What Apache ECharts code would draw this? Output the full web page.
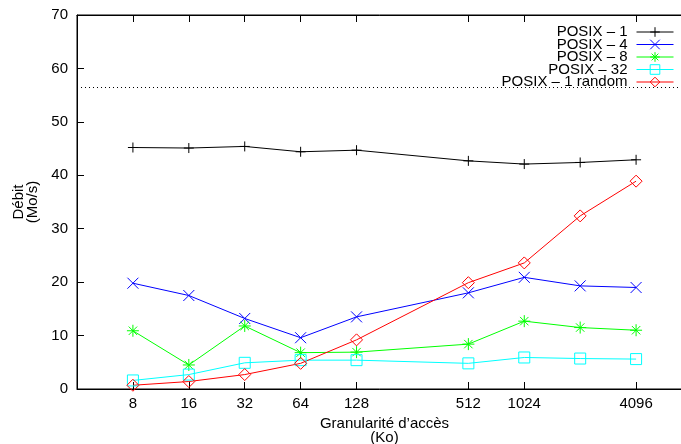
<!doctype html>
<html>
<head>
<meta charset="utf-8">
<title>Débit POSIX</title>
<script src="https://cdn.jsdelivr.net/npm/echarts@6/dist/echarts.min.js"></script>
<style>
  html, body { margin: 0; padding: 0; background: #fff; }
  #chart { width: 681px; height: 444px; }
</style>
</head>
<body>
<div id="chart"></div>
<script>
// tailles d'accès (Ko) et débits (Mo/s)
var sizes = [8, 16, 32, 64, 128, 512, 1024, 2048, 4096];
var tickSizes = [8, 16, 32, 64, 128, 512, 1024, 4096];
var posix1 = [45.2, 45.1, 45.4, 44.4, 44.7, 42.7, 42.1, 42.4, 42.9];
var posix4 = [19.8, 17.5, 13.2, 9.6, 13.5, 18.0, 20.9, 19.3, 19.0];
var posix8 = [10.9, 4.5, 11.8, 6.8, 6.9, 8.4, 12.7, 11.5, 11.0];
var posix32 = [1.6, 2.7, 4.9, 5.4, 5.4, 4.8, 5.9, 5.7, 5.6];
var posix1Random = [0.7, 1.4, 2.7, 4.8, 9.2, 19.9, 23.6, 32.4, 38.9];
var refLevel = 56.5;

var font = 'Liberation Sans';

function pairs(vals) {
    return sizes.map(function (s, i) { return [s, vals[i]]; });
}

function makeSeries(name, vals, color, symbol, size) {
    return {
        name: name,
        type: 'line',
        data: pairs(vals),
        symbol: symbol,
        symbolSize: size,
        showAllSymbol: true,
        lineStyle: { color: color, width: 1 },
        itemStyle: { color: 'rgba(0,0,0,0)', borderColor: color, borderWidth: 1 },
        emphasis: { disabled: true }
    };
}

var series = [
    makeSeries('POSIX – 1', posix1, '#000000', 'path://M0,5L10,5M5,0L5,10', 10),
    makeSeries('POSIX – 4', posix4, '#0000ff', 'path://M0,0L10,10M10,0L0,10', 11),
    makeSeries('POSIX – 8', posix8, '#00ff00', 'path://M0,5L10,5M5,0L5,10M1.5,1.5L8.5,8.5M8.5,1.5L1.5,8.5', 12),
    makeSeries('POSIX – 32', posix32, '#00ffff', 'rect', 11),
    makeSeries('POSIX – 1 random', posix1Random, '#ff0000', 'diamond', 12)
];

series[0].markLine = {
    silent: true,
    symbol: ['none', 'none'],
    label: { show: false },
    lineStyle: { color: '#000', width: 1, type: [1, 3] },
    data: [{ yAxis: refLevel }]
};

var myChart = echarts.init(document.getElementById('chart'));
var option = {
    animation: false,
    textStyle: { fontFamily: font },
    grid: {
        left: 77, top: 15, right: -11, bottom: 55,
        outerBoundsMode: 'none',
        containLabel: false,
        show: true, borderColor: '#000', borderWidth: 1,
        backgroundColor: 'rgba(0,0,0,0)'
    },
    legend: {
        orient: 'vertical',
        right: 7,
        top: 24.5,
        align: 'right',
        padding: 0,
        itemWidth: 37,
        itemHeight: 12,
        itemGap: -2.5,
        selectedMode: false,
        lineStyle: { width: 1 },
        itemStyle: { borderWidth: 1 },
        textStyle: { fontFamily: font, fontSize: 15, lineHeight: 12, color: '#000', padding: [0, 4, 0, 0] },
        data: series.map(function (s) { return s.name; })
    },
    xAxis: [
        {
            type: 'log',
            logBase: 2,
            min: 4,
            max: 8192,
            position: 'bottom',
            name: 'Granularité d’accès\n(Ko)',
            nameLocation: 'middle',
            nameGap: 25,
            nameTextStyle: { fontFamily: font, fontSize: 15, lineHeight: 14, color: '#000' },
            axisLine: { lineStyle: { color: '#000', width: 1 } },
            axisTick: { inside: true, length: 7, customValues: tickSizes, lineStyle: { color: '#000' } },
            axisLabel: {
                customValues: tickSizes,
                fontFamily: font, fontSize: 15, color: '#000', margin: 7,
                formatter: function (v) { return String(Math.round(v)); }
            },
            splitLine: { show: false },
            minorSplitLine: { show: false }
        },
        {
            type: 'log',
            logBase: 2,
            min: 4,
            max: 8192,
            position: 'top',
            axisLine: { lineStyle: { color: '#000', width: 1 } },
            axisTick: { inside: true, length: 7, customValues: tickSizes, lineStyle: { color: '#000' } },
            axisLabel: { show: false },
            splitLine: { show: false }
        }
    ],
    yAxis: {
        type: 'value',
        min: 0,
        max: 70,
        interval: 10,
        name: 'Débit\n(Mo/s)',
        nameLocation: 'middle',
        nameRotate: 90,
        nameGap: 35,
        nameTextStyle: { fontFamily: font, fontSize: 15, lineHeight: 14, color: '#000' },
        axisLine: { show: true, lineStyle: { color: '#000', width: 1 } },
        axisTick: { show: true, inside: true, length: 7, lineStyle: { color: '#000' } },
        axisLabel: { fontFamily: font, fontSize: 15, color: '#000', margin: 9 },
        splitLine: { show: false }
    },
    series: series
};
myChart.setOption(option);
</script>
</body>
</html>
